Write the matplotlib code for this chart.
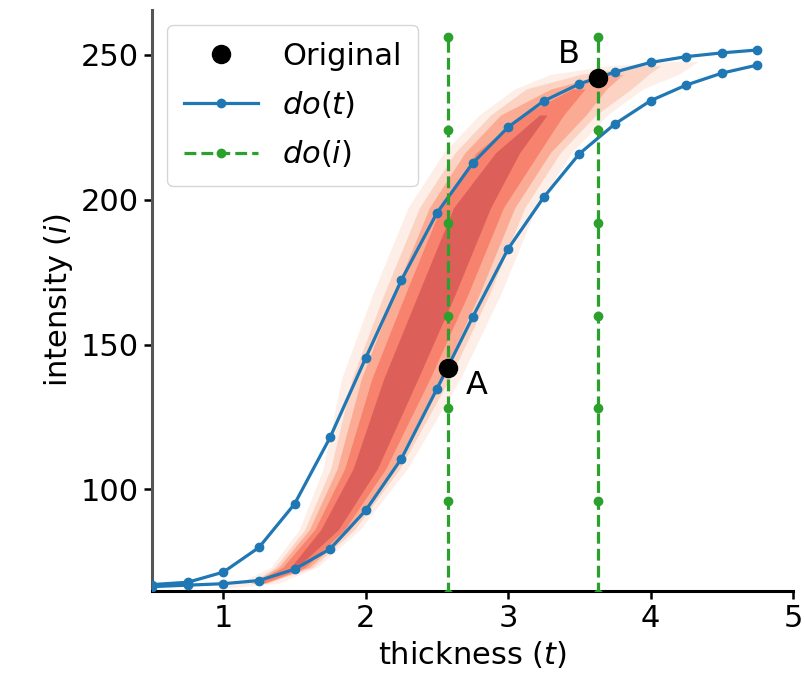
import numpy as np
import matplotlib.pyplot as plt

# do(t) curves, intensity read at each thickness step
thickness = [0.5, 0.75, 1.0, 1.25, 1.5, 1.75, 2.0, 2.25, 2.5,
             2.75, 3.0, 3.25, 3.5, 3.75, 4.0, 4.25, 4.5, 4.75]
do_t_left = [67.2, 68.0, 71.5, 80.0, 95.0, 118.0, 145.4, 172.2, 195.4,
             212.5, 225.0, 234.0, 239.9, 244.0, 247.3, 249.3, 250.6, 251.6]
do_t_right = [66.5, 67.0, 67.5, 68.6, 72.5, 79.5, 92.8, 110.6, 134.7,
              159.4, 183.0, 200.8, 215.8, 226.1, 234.1, 239.5, 243.6, 246.4]

# centre of the red band of sampled curves
red_t = [1.0, 1.25, 1.5, 1.75, 2.0, 2.25, 2.5, 2.75, 3.0, 3.25, 3.5, 3.75, 4.0, 4.25]
red_mid = [66.0, 67.5, 73.0, 86.0, 107.0, 138.0, 167.0, 197.0, 216.0, 229.0,
           238.0, 243.0, 246.0, 247.5]

# do(i) interventions
do_i_thickness = [2.58, 3.63]
do_i_levels = [64, 96, 128, 160, 192, 224, 256]

# original points
orig_t = [2.58, 3.63]
orig_i = [142, 242]
orig_names = ['A', 'B']

plt.rcParams['font.size'] = 22

fig = plt.figure(figsize=(8.05, 6.92), dpi=100)
ax = fig.add_axes([0.189, 0.146, 0.796, 0.84])

# red bands (outer -> inner): half width, t range, colour, alpha
bands = [
    (0.45, 1.0, 4.25, '#fde2d4', 0.55),
    (0.37, 1.25, 4.0, '#fcb9a0', 0.5),
    (0.30, 1.25, 3.75, '#fb8a6c', 0.55),
    (0.22, 1.25, 3.5, '#f4614f', 0.55),
    (0.13, 1.5, 3.25, '#c9434a', 0.55),
]
rt = np.array(red_t)
rm = np.array(red_mid)
for w, t0, t1, col, a in bands:
    sel = (rt >= t0) & (rt <= t1)
    tt, yy = rt[sel], rm[sel]
    # bands narrow towards the flat bottom and close off at the top end
    taper = np.clip(0.3 + (yy - 66) / 115, 0.3, 1.0)
    taper[0] *= 0.5
    taper[-1] *= 0.2
    taper[-2] *= 0.65
    xs = np.concatenate([tt - w * taper, (tt + w * taper)[::-1]])
    ys = np.concatenate([yy, yy[::-1]])
    ax.fill(xs, ys, color=col, alpha=a, lw=0, zorder=1)

ax.plot(thickness, do_t_left, '-o', color='#1f77b4', lw=2.3, ms=6, zorder=3,
        label='$do(t)$')
ax.plot(thickness, do_t_right, '-o', color='#1f77b4', lw=2.3, ms=6, zorder=3)

for k, tv in enumerate(do_i_thickness):
    ax.plot([tv] * len(do_i_levels), do_i_levels, '--o', color='#2ca02c',
            lw=2.3, ms=6, zorder=4, label='$do(i)$' if k == 0 else None)

ax.plot(orig_t, orig_i, 'o', color='black', ms=13, zorder=5, label='Original')
ax.text(orig_t[0] + 0.2, orig_i[0] - 6, orig_names[0], fontsize=23,
        ha='center', va='center')
ax.text(orig_t[1] - 0.2, orig_i[1] + 8, orig_names[1], fontsize=23,
        ha='center', va='center')

ax.set_xlim(0.5, 5)
ax.set_ylim(65, 265.5)
ax.set_xticks([1, 2, 3, 4, 5])
ax.set_yticks([100, 150, 200, 250])
ax.set_xlabel('thickness ($t$)')
ax.set_ylabel('intensity ($i$)')
ax.tick_params(width=1.8, length=6)

for s in ['top', 'right']:
    ax.spines[s].set_visible(False)
ax.spines['bottom'].set_linewidth(2.2)
ax.spines['left'].set_linewidth(2.2)
ax.spines['left'].set_color('#555555')

h, l = ax.get_legend_handles_labels()
order = [l.index('Original'), l.index('$do(t)$'), l.index('$do(i)$')]
ax.legend([h[i] for i in order], [l[i] for i in order], loc='upper left',
          bbox_to_anchor=(0.0, 1.0), fontsize=22, handlelength=2.4,
          labelspacing=0.6, borderpad=0.55)

fig.savefig('out.png')
